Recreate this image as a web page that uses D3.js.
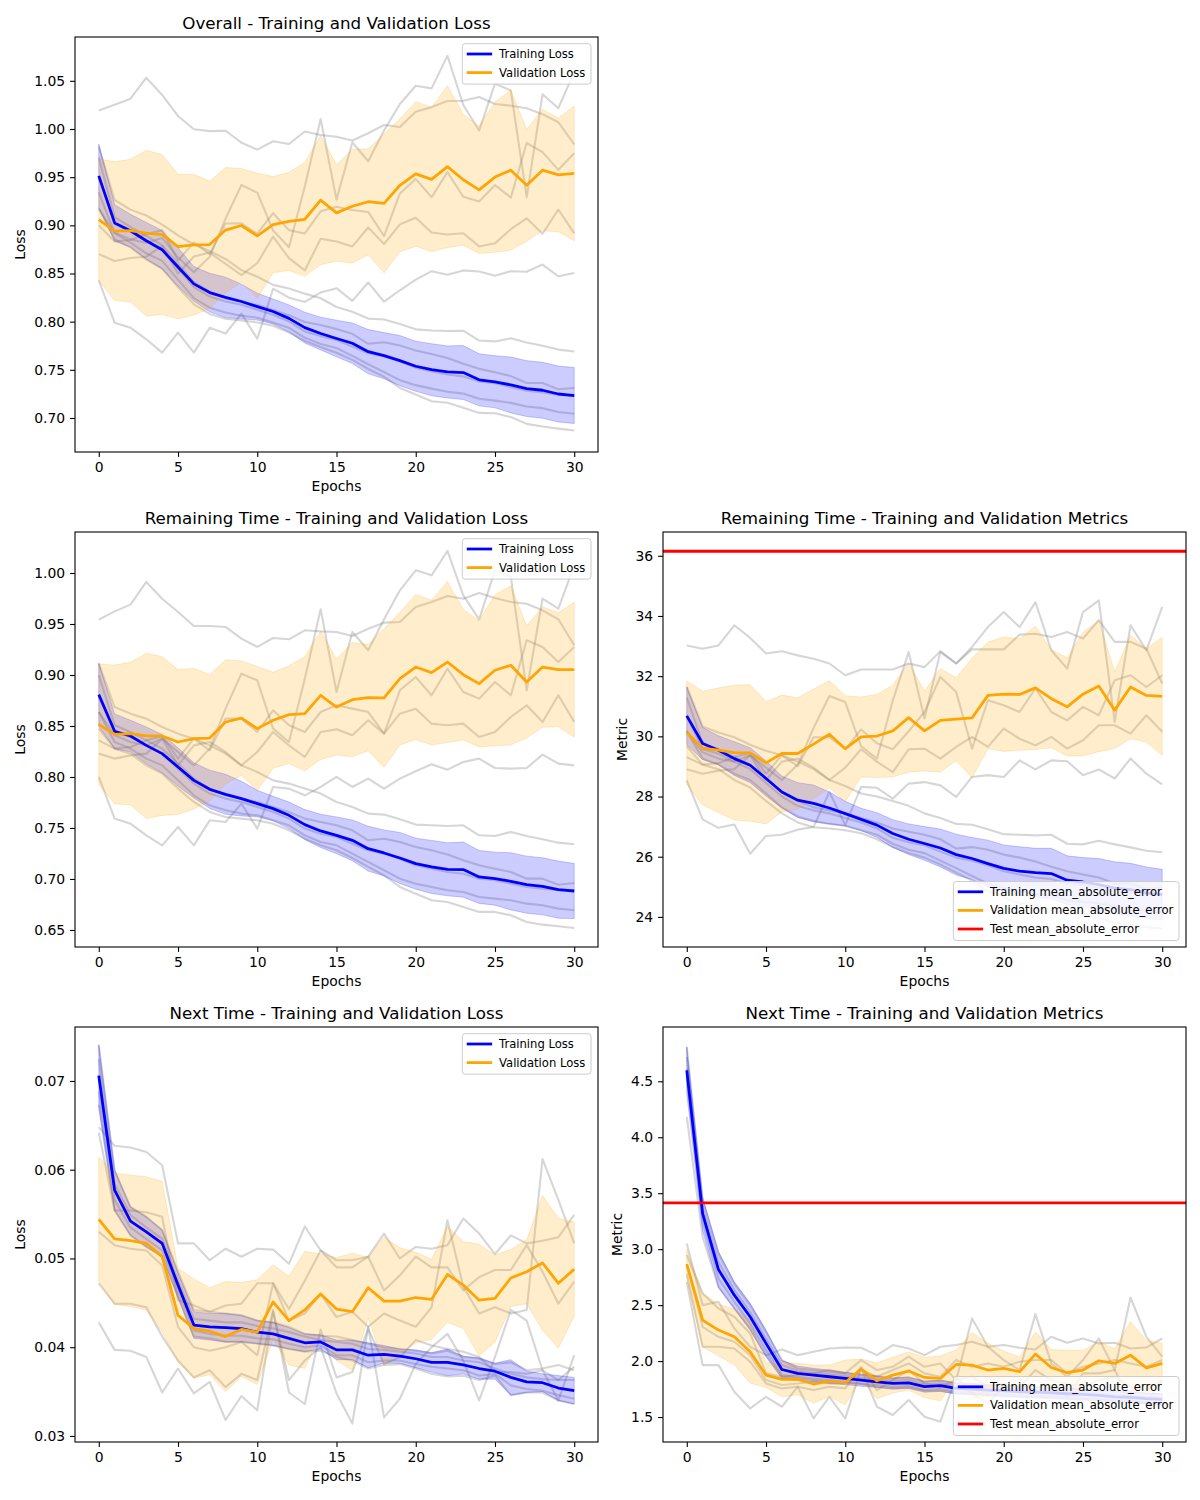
<!DOCTYPE html>
<html>
<head>
<meta charset="utf-8">
<script src="https://cdn.jsdelivr.net/npm/d3@7"></script>
<style>
  body { margin: 0; background: #fff; }
  text { font-family: "DejaVu Sans", sans-serif; }
</style>
</head>
<body>
<svg id="chart" width="1200" height="1500"></svg>
<script>
// ---- data ----
const epochs = [0,1,2,3,4,5,6,7,8,9,10,11,12,13,14,15,16,17,18,19,20,21,22,23,24,25,26,27,28,29,30];
const epochTicks = [0,5,10,15,20,25,30];

// Overall loss
const overallLossTicks = [0.70,0.75,0.80,0.85,0.90,0.95,1.00,1.05];
const overallTrainMean = [0.9513,0.9025,0.8944,0.8840,0.8746,0.8568,0.8392,0.8302,0.8252,0.8209,0.8156,0.8105,0.8034,0.7938,0.7877,0.7825,0.7776,0.7688,0.7647,0.7596,0.7537,0.7501,0.7478,0.7472,0.7396,0.7376,0.7343,0.7305,0.7288,0.7249,0.7233];
const overallTrainStd = [0.033,0.019,0.017,0.019,0.020,0.020,0.018,0.020,0.021,0.018,0.014,0.013,0.014,0.016,0.017,0.019,0.021,0.023,0.024,0.026,0.026,0.027,0.027,0.028,0.027,0.027,0.029,0.029,0.029,0.029,0.029];
const overallValMean = [0.9060,0.8940,0.8945,0.8919,0.8904,0.8779,0.8797,0.8800,0.8951,0.8998,0.8891,0.9007,0.9041,0.9063,0.9261,0.9129,0.9198,0.9245,0.9227,0.9416,0.9534,0.9477,0.9609,0.9473,0.9368,0.9501,0.9573,0.9416,0.9573,0.9524,0.9540];
const overallValStd = [0.063,0.072,0.074,0.086,0.083,0.075,0.073,0.066,0.065,0.059,0.065,0.050,0.051,0.059,0.067,0.050,0.059,0.055,0.072,0.069,0.075,0.075,0.084,0.068,0.066,0.078,0.083,0.058,0.063,0.059,0.070];
const overallTrainFolds = [
  [0.9817,0.9263,0.9163,0.9102,0.9007,0.8895,0.8801,0.8733,0.8651,0.8535,0.8466,0.8382,0.8345,0.8291,0.8243,0.8152,0.8103,0.8032,0.8023,0.7975,0.7920,0.7909,0.7903,0.7906,0.7804,0.7795,0.7827,0.7783,0.7749,0.7710,0.7691],
  [0.9703,0.9084,0.8983,0.8889,0.8795,0.8601,0.8409,0.8309,0.8242,0.8209,0.8172,0.8121,0.8067,0.7997,0.7965,0.7923,0.7874,0.7770,0.7787,0.7753,0.7701,0.7664,0.7622,0.7563,0.7510,0.7474,0.7435,0.7364,0.7363,0.7298,0.7312],
  [0.9507,0.9018,0.8934,0.8840,0.8746,0.8552,0.8360,0.8260,0.8210,0.8176,0.8123,0.8072,0.8002,0.7899,0.7850,0.7809,0.7743,0.7672,0.7640,0.7589,0.7521,0.7484,0.7452,0.7432,0.7379,0.7360,0.7320,0.7283,0.7265,0.7243,0.7240],
  [0.9343,0.8920,0.8820,0.8710,0.8631,0.8437,0.8245,0.8145,0.8095,0.8062,0.8041,0.7990,0.7936,0.7833,0.7769,0.7727,0.7645,0.7558,0.7477,0.7393,0.7341,0.7305,0.7272,0.7253,0.7200,0.7180,0.7157,0.7119,0.7102,0.7063,0.7044],
  [0.9180,0.8855,0.8771,0.8644,0.8550,0.8356,0.8180,0.8080,0.8030,0.8013,0.7992,0.7957,0.7887,0.7800,0.7736,0.7678,0.7603,0.7509,0.7428,0.7312,0.7243,0.7174,0.7158,0.7106,0.7053,0.7050,0.7010,0.6939,0.6912,0.6890,0.6871]
];
const overallValFolds = [
  [1.0191,1.0251,1.0315,1.0532,1.0353,1.0135,0.9997,0.9978,0.9982,0.9858,0.9786,0.9873,0.9844,0.9974,0.9937,0.9920,0.9880,0.9956,1.0041,1.0020,1.0180,1.0227,1.0290,1.0293,1.0332,1.0260,1.0242,1.0216,1.0154,1.0070,0.9840],
  [0.9167,0.8924,0.8854,0.8819,0.8868,0.8668,0.8514,0.8674,0.9070,0.9419,0.9339,0.8946,0.8773,0.9402,1.0104,0.9267,0.9862,0.9665,0.9984,1.0260,1.0449,1.0422,1.0759,1.0249,0.9984,1.0471,1.0399,0.9292,1.0360,1.0216,1.0592],
  [0.9001,0.8832,0.8848,0.8911,0.8949,0.8633,0.8823,0.8701,0.9019,0.9021,0.8913,0.9126,0.8950,0.8916,0.9146,0.9193,0.9160,0.9139,0.8889,0.9331,0.9482,0.9291,0.9552,0.9297,0.9247,0.9418,0.9288,0.9855,0.9760,0.9576,0.9749],
  [0.8701,0.8629,0.8661,0.8674,0.8788,0.8499,0.8676,0.8717,0.8600,0.8484,0.8608,0.8883,0.8659,0.8532,0.8861,0.8833,0.8781,0.8977,0.8806,0.9010,0.9078,0.8925,0.8905,0.8918,0.8781,0.8813,0.8960,0.9073,0.8913,0.9164,0.8917],
  [0.8428,0.7989,0.7938,0.7817,0.7679,0.7886,0.7678,0.7936,0.7877,0.8084,0.7823,0.8342,0.8249,0.8205,0.8302,0.8348,0.8216,0.8407,0.8207,0.8326,0.8437,0.8524,0.8487,0.8532,0.8520,0.8477,0.8524,0.8518,0.8593,0.8471,0.8505]
];

// Remaining time loss
const remLossTicks = [0.65,0.70,0.75,0.80,0.85,0.90,0.95,1.00];
const remTrainMean = [0.8807,0.8448,0.8402,0.8310,0.8229,0.8098,0.7967,0.7879,0.7830,0.7788,0.7739,0.7690,0.7624,0.7533,0.7471,0.7428,0.7379,0.7297,0.7255,0.7206,0.7150,0.7118,0.7095,0.7092,0.7020,0.7003,0.6977,0.6944,0.6928,0.6895,0.6882];
const remTrainStd = [0.031,0.017,0.0155,0.018,0.0188,0.0188,0.0172,0.0188,0.0196,0.017,0.013,0.012,0.013,0.0147,0.0163,0.018,0.020,0.022,0.0226,0.025,0.025,0.026,0.026,0.027,0.026,0.026,0.028,0.028,0.028,0.028,0.027];
const remValMean = [0.8516,0.8418,0.8425,0.8402,0.8402,0.8343,0.8376,0.8382,0.8539,0.8578,0.8474,0.8556,0.8611,0.8621,0.8801,0.8686,0.8758,0.8778,0.8775,0.8964,0.9078,0.9023,0.9127,0.9003,0.8915,0.9046,0.9095,0.8931,0.9078,0.9052,0.9052];
const remValStd = [0.059,0.068,0.070,0.081,0.078,0.071,0.069,0.062,0.061,0.056,0.061,0.047,0.048,0.056,0.063,0.047,0.056,0.052,0.068,0.065,0.071,0.071,0.079,0.064,0.062,0.074,0.078,0.055,0.059,0.056,0.066];
const remTrainFolds = [
  [0.9111,0.8686,0.8621,0.8572,0.8490,0.8425,0.8376,0.8310,0.8229,0.8114,0.8049,0.7967,0.7935,0.7886,0.7837,0.7755,0.7706,0.7641,0.7631,0.7585,0.7533,0.7526,0.7520,0.7526,0.7428,0.7422,0.7461,0.7422,0.7389,0.7356,0.7340],
  [0.8997,0.8507,0.8441,0.8359,0.8278,0.8131,0.7984,0.7886,0.7820,0.7788,0.7755,0.7706,0.7657,0.7592,0.7559,0.7526,0.7477,0.7379,0.7395,0.7363,0.7314,0.7281,0.7239,0.7183,0.7134,0.7101,0.7069,0.7003,0.7003,0.6944,0.6961],
  [0.8801,0.8441,0.8392,0.8310,0.8229,0.8082,0.7935,0.7837,0.7788,0.7755,0.7706,0.7657,0.7592,0.7494,0.7444,0.7412,0.7346,0.7281,0.7248,0.7199,0.7134,0.7101,0.7069,0.7052,0.7003,0.6987,0.6954,0.6922,0.6905,0.6889,0.6889],
  [0.8637,0.8343,0.8278,0.8180,0.8114,0.7967,0.7820,0.7722,0.7673,0.7641,0.7624,0.7575,0.7526,0.7428,0.7363,0.7330,0.7248,0.7167,0.7085,0.7003,0.6954,0.6922,0.6889,0.6873,0.6824,0.6807,0.6791,0.6758,0.6742,0.6709,0.6693],
  [0.8474,0.8278,0.8229,0.8114,0.8033,0.7886,0.7755,0.7657,0.7608,0.7592,0.7575,0.7542,0.7477,0.7395,0.7330,0.7281,0.7206,0.7118,0.7036,0.6922,0.6856,0.6791,0.6775,0.6726,0.6677,0.6677,0.6644,0.6578,0.6552,0.6536,0.6520]
];
const remValFolds = [
  [0.9543,0.9624,0.9690,0.9912,0.9748,0.9618,0.9480,0.9480,0.9471,0.9356,0.9275,0.9363,0.9350,0.9438,0.9428,0.9422,0.9382,0.9454,0.9513,0.9520,0.9667,0.9716,0.9775,0.9748,0.9804,0.9755,0.9716,0.9699,0.9634,0.9546,0.9291],
  [0.8637,0.8409,0.8343,0.8310,0.8376,0.8245,0.8114,0.8278,0.8670,0.9013,0.8948,0.8474,0.8343,0.8964,0.9644,0.8833,0.9422,0.9242,0.9546,0.9830,1.0026,0.9977,1.0216,0.9781,0.9546,1.0026,0.9961,0.8850,0.9748,0.9650,1.0075],
  [0.8359,0.8278,0.8294,0.8359,0.8402,0.8180,0.8376,0.8261,0.8572,0.8572,0.8441,0.8654,0.8507,0.8441,0.8637,0.8703,0.8670,0.8637,0.8425,0.8850,0.8980,0.8801,0.9062,0.8833,0.8768,0.8931,0.8801,0.9340,0.9275,0.9127,0.9275],
  [0.8229,0.8180,0.8212,0.8229,0.8376,0.8114,0.8310,0.8343,0.8245,0.8114,0.8245,0.8441,0.8310,0.8196,0.8441,0.8467,0.8409,0.8556,0.8425,0.8621,0.8670,0.8523,0.8507,0.8523,0.8392,0.8441,0.8588,0.8703,0.8539,0.8801,0.8539],
  [0.8000,0.7592,0.7542,0.7428,0.7330,0.7510,0.7330,0.7575,0.7559,0.7739,0.7494,0.7902,0.7886,0.7820,0.7902,0.8000,0.7902,0.7984,0.7886,0.7984,0.8056,0.8124,0.8072,0.8147,0.8180,0.8088,0.8082,0.8088,0.8219,0.8131,0.8114]
];

// Remaining time MAE
const remMaeTicks = [24,26,28,30,32,34,36];
const remTestMae = 36.15;
const remTrainMae = [30.68,29.76,29.54,29.26,29.04,28.60,28.15,27.88,27.77,27.62,27.43,27.24,27.05,26.77,26.58,26.44,26.29,26.07,25.94,25.77,25.61,25.52,25.47,25.44,25.22,25.16,25.07,24.96,24.91,24.80,24.74];
const remTrainMaeStd = [0.96,0.53,0.48,0.56,0.58,0.58,0.53,0.58,0.61,0.53,0.41,0.37,0.41,0.46,0.51,0.56,0.63,0.68,0.70,0.78,0.78,0.81,0.81,0.84,0.81,0.81,0.87,0.87,0.87,0.86,0.84];
const remValMae = [30.12,29.61,29.54,29.46,29.45,29.12,29.43,29.43,29.74,30.07,29.59,29.98,30.01,30.18,30.62,30.18,30.53,30.57,30.61,31.36,31.40,31.39,31.61,31.25,30.98,31.40,31.67,30.87,31.64,31.36,31.33];
const remValMaeStd = [1.72,1.89,2.07,2.24,2.27,2.03,1.94,1.85,1.83,1.78,1.76,1.33,1.38,1.53,1.81,1.33,1.72,1.38,1.99,1.77,1.90,1.85,2.05,1.63,1.63,2.05,2.18,1.27,1.72,1.55,1.96];
const remTrainMaeFolds = [
  [31.64,30.33,30.13,29.97,29.72,29.52,29.37,29.16,28.91,28.55,28.35,28.10,28.00,27.85,27.69,27.44,27.29,27.09,27.06,26.91,26.75,26.73,26.71,26.73,26.43,26.41,26.53,26.41,26.31,26.20,26.15],
  [31.29,29.77,29.57,29.31,29.06,28.61,28.15,27.85,27.64,27.54,27.44,27.29,27.14,26.94,26.83,26.73,26.58,26.27,26.32,26.23,26.07,25.97,25.84,25.67,25.52,25.41,25.31,25.11,25.11,24.93,24.98],
  [30.68,29.57,29.42,29.16,28.91,28.45,28.00,27.69,27.54,27.44,27.29,27.14,26.94,26.63,26.48,26.38,26.17,25.97,25.87,25.72,25.52,25.41,25.31,25.26,25.11,25.06,24.96,24.86,24.81,24.76,24.76],
  [30.17,29.26,29.06,28.76,28.55,28.10,27.64,27.34,27.19,27.09,27.03,26.88,26.73,26.43,26.23,26.12,25.87,25.62,25.36,25.11,24.96,24.86,24.76,24.71,24.55,24.50,24.45,24.35,24.30,24.20,24.15],
  [29.67,29.06,28.91,28.55,28.30,27.85,27.44,27.14,26.98,26.94,26.88,26.78,26.58,26.32,26.12,25.97,25.74,25.47,25.21,24.86,24.65,24.45,24.40,24.25,24.10,24.10,24.00,23.79,23.71,23.66,23.61]
];
const remValMaeFolds = [
  [33.02,32.91,33.02,33.69,33.27,32.75,32.83,32.69,32.58,32.42,32.03,32.22,32.22,32.22,32.42,32.30,32.83,32.42,32.89,32.89,32.89,33.38,33.41,33.30,33.47,33.25,33.86,33.14,33.14,32.91,31.75],
  [30.17,29.47,29.26,29.16,29.37,28.96,28.55,29.06,30.28,31.34,31.14,29.67,29.26,31.19,32.80,30.59,32.80,32.42,32.97,33.63,34.13,33.63,34.46,32.86,32.25,34.13,34.52,30.48,33.69,32.86,34.30],
  [29.31,29.06,29.11,29.31,29.45,28.76,29.37,29.01,29.97,29.97,29.57,30.23,29.77,29.57,30.17,30.81,31.97,31.47,29.59,31.20,31.03,30.81,31.59,30.81,30.53,30.98,30.70,31.86,32.03,31.64,32.03],
  [28.91,28.76,28.86,28.91,29.37,28.55,29.16,29.26,28.96,28.55,28.96,29.57,29.16,28.81,29.57,29.59,29.26,29.65,29.98,29.65,30.26,29.92,29.70,29.98,29.59,29.87,30.37,30.37,30.09,30.70,30.15],
  [28.54,27.24,26.96,27.07,26.10,26.69,26.73,26.90,26.99,28.15,27.05,28.32,28.29,27.93,28.43,28.48,28.37,27.99,28.65,28.71,28.65,29.20,28.90,29.20,29.17,28.71,28.90,28.60,29.26,28.76,28.40]
];

// Next time loss
const nextLossTicks = [0.03,0.04,0.05,0.06,0.07];
const nextTrainMean = [0.0706,0.0577,0.0542,0.0530,0.0517,0.0470,0.0425,0.0423,0.0422,0.0421,0.0417,0.0415,0.0410,0.0405,0.0406,0.0397,0.0397,0.0391,0.0392,0.0390,0.0387,0.0383,0.0383,0.0380,0.0376,0.0373,0.0366,0.0361,0.0360,0.0354,0.0351];
const nextTrainStd = [0.0035,0.0023,0.0016,0.0017,0.0015,0.0014,0.0015,0.0015,0.0016,0.0015,0.0013,0.0013,0.0012,0.0010,0.0008,0.0011,0.0011,0.0014,0.0010,0.0008,0.0010,0.0011,0.0015,0.0010,0.0012,0.0009,0.0020,0.0012,0.0010,0.0014,0.0015];
const nextValMean = [0.0544,0.0522,0.0520,0.0517,0.0502,0.0436,0.0421,0.0418,0.0412,0.0420,0.0417,0.0451,0.0430,0.0442,0.0460,0.0443,0.0440,0.0467,0.0452,0.0452,0.0456,0.0454,0.0482,0.0470,0.0453,0.0455,0.0478,0.0485,0.0495,0.0472,0.0488];
const nextValStd = [0.0070,0.0074,0.0074,0.0075,0.0085,0.0053,0.0056,0.0049,0.0062,0.0053,0.0059,0.0042,0.0050,0.0066,0.0045,0.0058,0.0066,0.0034,0.0072,0.0060,0.0051,0.0045,0.0054,0.0049,0.0063,0.0049,0.0032,0.0036,0.0076,0.0073,0.0053];
const nextTrainFolds = [
  [0.0740,0.0599,0.0558,0.0547,0.0532,0.0485,0.0442,0.0440,0.0438,0.0436,0.0430,0.0428,0.0423,0.0415,0.0413,0.0412,0.0408,0.0404,0.0400,0.0398,0.0396,0.0393,0.0396,0.0389,0.0387,0.0381,0.0383,0.0374,0.0376,0.0380,0.0374],
  [0.0725,0.0584,0.0549,0.0535,0.0522,0.0475,0.0432,0.0430,0.0428,0.0428,0.0424,0.0421,0.0417,0.0412,0.0408,0.0406,0.0404,0.0398,0.0397,0.0395,0.0393,0.0389,0.0389,0.0385,0.0383,0.0376,0.0370,0.0366,0.0364,0.0363,0.0363],
  [0.0706,0.0577,0.0542,0.0530,0.0517,0.0470,0.0425,0.0423,0.0422,0.0421,0.0417,0.0415,0.0410,0.0405,0.0406,0.0397,0.0397,0.0391,0.0392,0.0390,0.0387,0.0383,0.0383,0.0380,0.0376,0.0373,0.0366,0.0361,0.0360,0.0354,0.0351],
  [0.0688,0.0566,0.0535,0.0522,0.0509,0.0464,0.0419,0.0415,0.0413,0.0413,0.0410,0.0409,0.0404,0.0400,0.0402,0.0391,0.0391,0.0383,0.0385,0.0385,0.0381,0.0378,0.0376,0.0374,0.0368,0.0370,0.0357,0.0353,0.0351,0.0346,0.0342],
  [0.0673,0.0554,0.0526,0.0513,0.0502,0.0457,0.0412,0.0410,0.0406,0.0406,0.0404,0.0402,0.0398,0.0395,0.0396,0.0389,0.0385,0.0376,0.0380,0.0381,0.0376,0.0370,0.0367,0.0368,0.0363,0.0368,0.0346,0.0349,0.0349,0.0340,0.0336]
];
const nextValFolds = [
  [0.0648,0.0627,0.0625,0.0620,0.0605,0.0517,0.0517,0.0498,0.0511,0.0502,0.0511,0.0510,0.0494,0.0536,0.0509,0.0498,0.0498,0.0502,0.0528,0.0500,0.0513,0.0511,0.0515,0.0545,0.0528,0.0505,0.0526,0.0517,0.0520,0.0524,0.0549],
  [0.0642,0.0554,0.0554,0.0552,0.0547,0.0453,0.0447,0.0440,0.0447,0.0449,0.0472,0.0472,0.0443,0.0475,0.0509,0.0490,0.0490,0.0502,0.0464,0.0481,0.0502,0.0490,0.0490,0.0464,0.0479,0.0487,0.0487,0.0515,0.0485,0.0449,0.0474],
  [0.0530,0.0515,0.0511,0.0509,0.0492,0.0423,0.0400,0.0396,0.0400,0.0406,0.0391,0.0472,0.0430,0.0438,0.0460,0.0434,0.0440,0.0423,0.0438,0.0430,0.0423,0.0445,0.0543,0.0468,0.0438,0.0445,0.0438,0.0442,0.0612,0.0566,0.0517],
  [0.0472,0.0449,0.0449,0.0445,0.0412,0.0385,0.0366,0.0374,0.0355,0.0370,0.0363,0.0442,0.0349,0.0336,0.0420,0.0366,0.0372,0.0421,0.0381,0.0389,0.0408,0.0402,0.0398,0.0395,0.0389,0.0372,0.0372,0.0370,0.0374,0.0363,0.0378],
  [0.0428,0.0397,0.0396,0.0389,0.0349,0.0376,0.0348,0.0361,0.0318,0.0345,0.0329,0.0440,0.0363,0.0385,0.0400,0.0348,0.0314,0.0423,0.0321,0.0342,0.0381,0.0400,0.0415,0.0385,0.0340,0.0389,0.0442,0.0430,0.0374,0.0340,0.0391]
];

// Next time MAE
const nextMaeTicks = [1.5,2.0,2.5,3.0,3.5,4.0,4.5];
const nextTestMae = 3.413;
const nextTrainMae = [4.598,3.318,2.818,2.589,2.396,2.158,1.925,1.890,1.875,1.860,1.845,1.830,1.815,1.800,1.806,1.771,1.780,1.756,1.750,1.741,1.735,1.726,1.723,1.717,1.708,1.702,1.693,1.681,1.675,1.664,1.658];
const nextTrainMaeStd = [0.21,0.15,0.16,0.12,0.12,0.12,0.08,0.065,0.06,0.06,0.055,0.055,0.05,0.05,0.05,0.05,0.05,0.05,0.05,0.05,0.05,0.05,0.05,0.05,0.05,0.05,0.05,0.05,0.05,0.05,0.05];
const nextValMae = [2.866,2.366,2.277,2.217,2.083,1.875,1.836,1.839,1.795,1.824,1.809,1.928,1.824,1.875,1.911,1.854,1.845,1.970,1.964,1.920,1.935,1.905,2.062,1.943,1.896,1.920,2.003,1.979,2.053,1.940,1.979];
const nextValMaeStd = [0.13,0.24,0.23,0.25,0.28,0.11,0.155,0.14,0.17,0.14,0.20,0.09,0.16,0.16,0.17,0.18,0.20,0.13,0.29,0.24,0.155,0.13,0.20,0.16,0.20,0.175,0.17,0.13,0.30,0.245,0.18];
const nextTrainMaeFolds = [
  [4.806,3.437,2.961,2.693,2.500,2.262,2.009,1.934,1.920,1.905,1.890,1.875,1.866,1.845,1.854,1.815,1.824,1.800,1.795,1.786,1.780,1.771,1.765,1.762,1.753,1.747,1.735,1.726,1.720,1.711,1.705],
  [4.717,3.363,2.887,2.634,2.440,2.202,1.964,1.914,1.896,1.881,1.866,1.851,1.836,1.824,1.830,1.792,1.800,1.777,1.771,1.762,1.756,1.747,1.741,1.735,1.726,1.720,1.711,1.699,1.693,1.681,1.675],
  [4.613,3.318,2.818,2.589,2.396,2.158,1.925,1.890,1.875,1.860,1.845,1.830,1.815,1.800,1.806,1.771,1.780,1.756,1.750,1.741,1.735,1.726,1.723,1.717,1.708,1.702,1.693,1.681,1.675,1.664,1.658],
  [4.539,3.244,2.738,2.530,2.336,2.098,1.875,1.860,1.845,1.830,1.815,1.800,1.786,1.771,1.777,1.741,1.750,1.726,1.720,1.711,1.705,1.696,1.693,1.687,1.678,1.672,1.664,1.652,1.646,1.634,1.628],
  [4.181,3.110,2.664,2.470,2.292,2.053,1.860,1.845,1.830,1.815,1.806,1.795,1.771,1.756,1.765,1.735,1.735,1.711,1.705,1.696,1.687,1.681,1.675,1.669,1.664,1.658,1.652,1.640,1.634,1.622,1.610]
];
const nextValMaeFolds = [
  [3.050,2.500,2.530,2.292,2.128,2.053,2.104,2.053,2.083,2.113,2.122,2.119,2.053,2.143,2.113,2.053,2.128,2.143,2.173,2.128,2.143,2.119,2.104,2.217,2.164,2.202,2.158,2.164,2.113,2.122,2.202],
  [2.946,2.604,2.470,2.396,2.247,1.890,1.860,1.875,1.890,1.920,1.890,2.009,1.920,1.949,2.039,1.949,1.979,1.830,2.381,2.128,2.009,1.920,2.420,1.979,1.860,2.009,2.202,1.920,2.568,2.217,2.039],
  [2.866,2.306,2.217,2.173,2.053,1.830,1.786,1.800,1.815,1.800,1.800,1.920,1.860,1.920,1.979,1.890,1.860,2.009,1.949,1.979,1.949,1.994,2.009,2.009,1.890,1.949,1.979,2.009,1.979,1.949,2.009],
  [2.783,2.128,2.128,2.113,1.994,1.800,1.756,1.771,1.741,1.771,1.756,1.949,1.741,1.830,1.920,1.800,1.771,1.830,1.860,1.771,1.800,1.771,1.920,1.830,1.800,1.771,1.830,1.860,1.771,1.741,1.830],
  [2.708,1.964,1.964,1.726,1.577,1.681,1.592,1.771,1.488,1.681,1.488,1.934,1.592,1.518,1.652,1.503,1.458,1.860,1.711,1.622,1.771,1.741,1.830,1.771,1.681,1.890,1.890,1.920,1.652,1.622,1.830]
];

// ---- panels ----
const lossLegend = ["Training Loss", "Validation Loss"];
const maeLegend = ["Training mean_absolute_error", "Validation mean_absolute_error", "Test mean_absolute_error"];

const panels = [
  {title: "Overall - Training and Validation Loss", left: 75, top: 37, yLabel: "Loss",
   domain: [0.6647, 1.0955], ticks: overallLossTicks, fmt: d3.format(".2f"),
   trainMean: overallTrainMean, trainStd: overallTrainStd, valMean: overallValMean, valStd: overallValStd,
   trainFolds: overallTrainFolds, valFolds: overallValFolds, legend: lossLegend, legendLoc: "upper"},
  {title: "Remaining Time - Training and Validation Loss", left: 75, top: 532, yLabel: "Loss",
   domain: [0.6333, 1.0402], ticks: remLossTicks, fmt: d3.format(".2f"),
   trainMean: remTrainMean, trainStd: remTrainStd, valMean: remValMean, valStd: remValStd,
   trainFolds: remTrainFolds, valFolds: remValFolds, legend: lossLegend, legendLoc: "upper"},
  {title: "Remaining Time - Training and Validation Metrics", left: 663, top: 532, yLabel: "Metric",
   domain: [23.0, 36.79], ticks: remMaeTicks, fmt: d3.format("d"),
   trainMean: remTrainMae, trainStd: remTrainMaeStd, valMean: remValMae, valStd: remValMaeStd,
   trainFolds: remTrainMaeFolds, valFolds: remValMaeFolds, test: remTestMae, legend: maeLegend, legendLoc: "lower"},
  {title: "Next Time - Training and Validation Loss", left: 75, top: 1027, yLabel: "Loss",
   domain: [0.02932, 0.07608], ticks: nextLossTicks, fmt: d3.format(".2f"),
   trainMean: nextTrainMean, trainStd: nextTrainStd, valMean: nextValMean, valStd: nextValStd,
   trainFolds: nextTrainFolds, valFolds: nextValFolds, legend: lossLegend, legendLoc: "upper"},
  {title: "Next Time - Training and Validation Metrics", left: 663, top: 1027, yLabel: "Metric",
   domain: [1.277, 4.985], ticks: nextMaeTicks, fmt: d3.format(".1f"),
   trainMean: nextTrainMae, trainStd: nextTrainMaeStd, valMean: nextValMae, valStd: nextValMaeStd,
   trainFolds: nextTrainMaeFolds, valFolds: nextValMaeFolds, test: nextTestMae, legend: maeLegend, legendLoc: "lower"}
];

const svg = d3.select("#chart");
const panelW = 523, panelH = 415;
const seriesColors = ["blue", "orange", "red"];

function drawPanel(p) {
  const g = svg.append("g").attr("transform", `translate(${p.left},${p.top})`);
  const x = d3.scaleLinear().domain([-1.5, 31.5]).range([0, panelW]);
  const y = d3.scaleLinear().domain(p.domain).range([panelH, 0]);

  const line = d3.line().x((d, i) => x(epochs[i])).y(d => y(d));
  const band = (mean, std) => d3.area()
      .x((d, i) => x(epochs[i]))
      .y0((d, i) => y(mean[i] - std[i]))
      .y1((d, i) => y(mean[i] + std[i]))(mean);

  // individual folds
  p.trainFolds.concat(p.valFolds).forEach(f => {
    g.append("path").attr("d", line(f))
      .attr("fill", "none").attr("stroke", "gray")
      .attr("stroke-opacity", 0.32).attr("stroke-width", 2.1)
      .attr("stroke-linejoin", "round");
  });

  // std bands
  g.append("path").attr("d", band(p.trainMean, p.trainStd))
    .attr("fill", "blue").attr("fill-opacity", 0.2)
    .attr("stroke", "blue").attr("stroke-opacity", 0.2).attr("stroke-width", 1);
  g.append("path").attr("d", band(p.valMean, p.valStd))
    .attr("fill", "orange").attr("fill-opacity", 0.2)
    .attr("stroke", "orange").attr("stroke-opacity", 0.2).attr("stroke-width", 1);

  // means
  g.append("path").attr("d", line(p.trainMean))
    .attr("fill", "none").attr("stroke", "blue").attr("stroke-width", 2.78).attr("stroke-linejoin", "round");
  g.append("path").attr("d", line(p.valMean))
    .attr("fill", "none").attr("stroke", "orange").attr("stroke-width", 2.78).attr("stroke-linejoin", "round");

  if (p.test !== undefined) {
    g.append("line")
      .attr("x1", 0).attr("x2", panelW)
      .attr("y1", y(p.test)).attr("y2", y(p.test))
      .attr("stroke", "red").attr("stroke-width", 2.78);
  }

  // axes
  const xAxis = g.append("g").attr("transform", `translate(0,${panelH})`)
    .call(d3.axisBottom(x).tickValues(epochTicks).tickSize(4.9).tickPadding(4.9).tickSizeOuter(0));
  const yAxis = g.append("g")
    .call(d3.axisLeft(y).tickValues(p.ticks).tickFormat(p.fmt).tickSize(4.9).tickPadding(4.9).tickSizeOuter(0));
  [xAxis, yAxis].forEach(a => {
    a.select(".domain").remove();
    a.selectAll("line").attr("stroke", "#000").attr("stroke-width", 1.1);
    a.selectAll("text").attr("font-size", 13.9).attr("font-family", "DejaVu Sans").attr("fill", "#000");
  });

  g.append("rect").attr("width", panelW).attr("height", panelH)
    .attr("fill", "none").attr("stroke", "#000").attr("stroke-width", 1.1);

  g.append("text").attr("x", panelW / 2).attr("y", -8.3)
    .attr("text-anchor", "middle").attr("font-size", 16.7).text(p.title);
  g.append("text").attr("x", panelW / 2).attr("y", panelH + 38.5)
    .attr("text-anchor", "middle").attr("font-size", 13.9).text("Epochs");

  let maxW = 0;
  yAxis.selectAll("text").each(function () { maxW = Math.max(maxW, this.getComputedTextLength()); });
  const lx = -(9.8 + maxW + 5.6 + 3.2);
  g.append("text").attr("transform", `translate(${lx},${panelH / 2}) rotate(-90)`)
    .attr("text-anchor", "middle").attr("font-size", 13.9).text(p.yLabel);

  drawLegend(g, p);
}

function drawLegend(g, p) {
  const rowH = 18.6;
  const lg = g.append("g");
  const box = lg.append("rect");
  const texts = p.legend.map((label, i) =>
    lg.append("text").attr("font-size", 11.6).attr("dy", "0.35em").text(label));
  const textW = d3.max(texts, t => t.node().getComputedTextLength());
  const boxW = 36.7 + textW + 5.6;
  const boxH = 10.3 + (p.legend.length - 1) * rowH + 11.5;
  const bx = panelW - 7 - boxW;
  const by = p.legendLoc === "upper" ? 6.7 : panelH - 6.5 - boxH;

  box.attr("x", bx).attr("y", by).attr("width", boxW).attr("height", boxH)
    .attr("rx", 2.8).attr("fill", "#fff").attr("fill-opacity", 0.8)
    .attr("stroke", "#cccccc").attr("stroke-width", 1);

  texts.forEach((t, i) => {
    const cy = by + 10.3 + i * rowH;
    t.attr("x", bx + 36.7).attr("y", cy);
    lg.insert("line", "text")
      .attr("x1", bx + 4.4).attr("x2", bx + 29.8)
      .attr("y1", cy).attr("y2", cy)
      .attr("stroke", seriesColors[i]).attr("stroke-width", 2.78);
  });
}

panels.forEach(drawPanel);
</script>
</body>
</html>
